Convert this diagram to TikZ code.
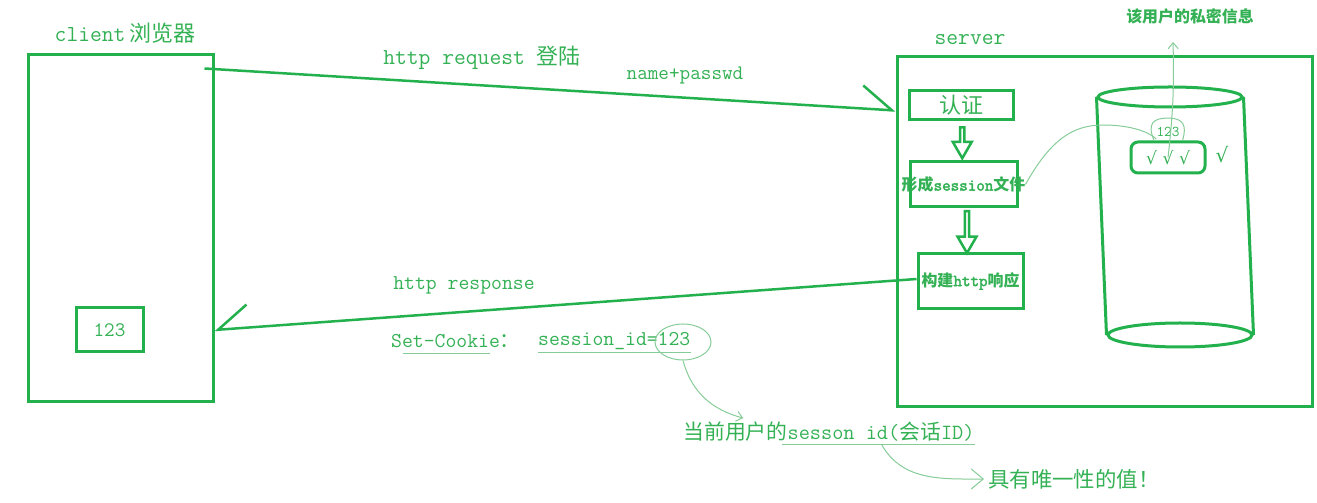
\documentclass[tikz,border=0pt]{standalone}
\usepackage{fontspec}
\setmainfont{Latin Modern Mono}[AutoFakeBold=2.5]
\newfontfamily\cjk[Scale=0.96]{Noto Sans CJK SC}
\newfontfamily\symfont{DejaVu Sans}
\usetikzlibrary{shapes.geometric, shapes.arrows, arrows.meta, positioning, calc}
\definecolor{cLine}{HTML}{22B14C}
\definecolor{cText}{HTML}{34B155}
\definecolor{cThin}{HTML}{86CC98}
\newcommand{\zh}[1]{{\cjk #1}}

\begin{document}
\begin{tikzpicture}[
    x=1pt, y=1pt,
    font=\fontsize{22.9}{26}\selectfont\color{cText},
    % Core item styles
    line/.style={draw=cLine, line width=3pt},
    box/.style={rectangle, line, inner sep=0pt, text=cText},
    db_end/.style={ellipse, line, inner sep=0pt, minimum width=144pt},
    txt/.style={inner sep=0pt, text=cText},
    mid_txt/.style={txt, font=\fontsize{21.1}{24}\selectfont},
    small_txt/.style={txt, font=\fontsize{16.6}{19}\selectfont\bfseries},
    flow_arrow/.style={single arrow, draw=cLine, line width=2.5pt, shape border rotate=270, minimum width=19pt, single arrow head extend=4.5pt, single arrow tip angle=60, inner sep=0pt},
    % Connector styles
    thin_line/.style={draw=cThin, line width=1pt},
    thin_arrow/.style={thin_line, -{Straight Barb[length=6pt, width=10pt]}},
    req_arrow/.style={draw=cLine, line width=2.5pt, -{Straight Barb[harpoon, length=30pt, width=46pt]}},
    resp_arrow/.style={draw=cLine, line width=2.5pt, -{Straight Barb[harpoon, swap, length=30pt, width=46pt]}}
]
\useasboundingbox (0,0) rectangle (1317,503);

% --- CLIENT ---
\node[box, minimum width=185pt, minimum height=347pt] (client) at (120.5,274.5) {};
\node[txt] (client_lbl) at (125,470) {client\,\zh{浏览器}};
\node[box, minimum width=67pt, minimum height=44pt, font=\fontsize{20.6}{22}\selectfont] (cookie) at (109.5,173) {123};

% --- SERVER ---
\node[box, minimum width=415pt, minimum height=350pt] (server) at (1104.5,271) {};
\node[txt] (server_lbl) at (970,463) {server};
\node[box, minimum width=104pt, minimum height=29pt] (auth) at (961,397.5) {\zh{认证}};
\node[box, minimum width=107pt, minimum height=45pt, label={[small_txt, name=form_txt]center:\zh{形成}session\zh{文件}}] (form) at (963.5,318.5) {};
\node[box, small_txt, minimum width=105pt, minimum height=55pt] (build) at (970.5,222) {\zh{构建}http\zh{响应}};
\node[flow_arrow, minimum height=31pt] (step1) at ($(auth.south)!0.5!(form.north)$) {};
\node[flow_arrow, minimum height=42pt] (step2) at ($(form.south)!0.5!(build.north)$) {};

% session store
\node[db_end, minimum height=20pt] (db_top) at (1170,406) {};
\node[db_end, minimum height=24pt] (db_bot) at (1180,168) {};
\draw[line] (db_top.west) -- (db_bot.west);
\draw[line] (db_top.east) -- (db_bot.east);
\node[box, rounded corners=7pt, minimum width=74pt, minimum height=31pt, font=\symfont\fontsize{17}{20}\selectfont] (checks) at (1168,345.5) {√\,\,√\,\,√};
\node[txt, font=\symfont\fontsize{20}{22}\selectfont] (check_extra) at (1222,348) {√};
\node[txt, font=\fontsize{14.9}{16}\selectfont] (sid_store) at (1168,371) {123};
\node[small_txt] (priv) at (1190,487) {\zh{该用户的私密信息}};

\coordinate (store_bend) at (1103,378);
\draw[thin_line] (form_txt.east) .. controls +(25,45) and +(-30,0) .. (store_bend) .. controls +(30,0) and +(-6,6) .. ([yshift=-7pt]sid_store.west);
\draw[thin_line] ([xshift=-2pt, yshift=-4pt]sid_store.south west) .. controls +(-8,18) and +(-14,0) .. ([yshift=9pt]sid_store.north) .. controls +(16,0) and +(4,14) .. ([xshift=3pt, yshift=-3pt]sid_store.south east);
\draw[thin_arrow] (checks.center) to[bend right=4] ([xshift=-17pt, yshift=-18pt]priv.south);

% --- REQUEST ---
\coordinate (req_start) at ([xshift=-10pt, yshift=-15pt]client.north east);
\coordinate (req_end) at ($(auth.west -| server.west)+(0,-5)$);
\draw[req_arrow] (req_start) -- (req_end);
\node[txt] (req_lbl) at (482,445) {http request \zh{登陆}};
\node[txt, font=\fontsize{20.6}{24}\selectfont] (pw_lbl) at (685,428) {name+passwd};

% --- RESPONSE ---
\coordinate (resp_end) at (cookie -| client.east);
\draw[resp_arrow] ([yshift=2pt]build.west) -- (resp_end);
\node[mid_txt] (resp_lbl) at (464,218) {http response};
\node[mid_txt, anchor=west] (set_cookie) at (391,162) {Set-Cookie\zh{：}};
\node[mid_txt, anchor=west] (sid) at (538,162) {session\_id=123};
\node[ellipse, thin_line, minimum width=56pt, minimum height=36pt] (sid_circle) at (683,161) {};
\draw[thin_line] ([xshift=12pt, yshift=-6pt]set_cookie.south west) -- ([xshift=-30pt, yshift=-6pt]set_cookie.south east);
\draw[thin_line] ([yshift=-3pt]sid.south west) -- ([yshift=-3pt]sid.south east);

% --- SESSION ID NOTES ---
\node[txt, font=\fontsize{21.7}{24}\selectfont] (cur_id) at (829,71) {\zh{当前用户的}sesson id(\zh{会话}ID)};
\draw[thin_line] ([xshift=-193pt, yshift=-3pt]cur_id.south east) -- ([yshift=-3pt]cur_id.south east);
\coordinate (cur_top) at ([xshift=60pt, yshift=4pt]cur_id.north west);
\draw[thin_arrow] (sid_circle.south) to[out=-75, in=165] (cur_top);
\coordinate (cur_mark) at ([xshift=-93pt, yshift=-3pt]cur_id.south east);
\node[txt, font=\fontsize{22.3}{24}\selectfont, anchor=west] (unique) at (988,24) {\zh{具有唯一性的值！}};
\draw[thin_line, -{Straight Barb[length=12pt, width=20pt]}] (cur_mark) to[out=-60, in=180] ([xshift=-4pt]unique.west);

\end{tikzpicture}
\end{document}
